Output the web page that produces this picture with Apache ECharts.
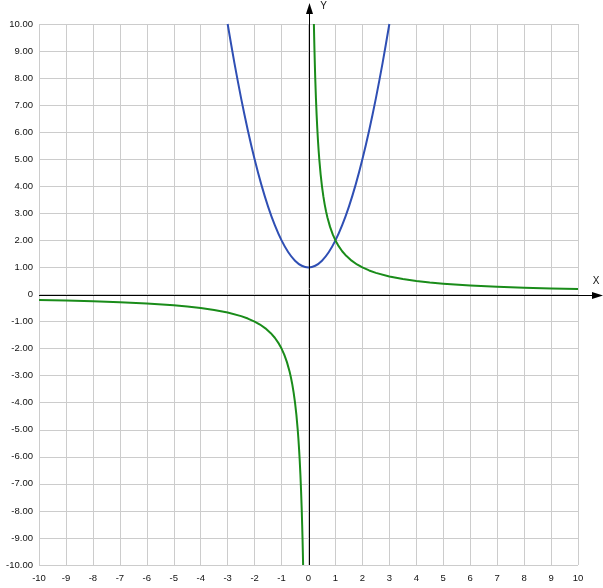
<!DOCTYPE html>
<html><head><meta charset="utf-8">
<script src="https://cdn.jsdelivr.net/npm/echarts@6/dist/echarts.min.js"></script>
<style>html,body{margin:0;padding:0;background:#fff}#c{width:603px;height:588px}</style>
</head><body><div id="c"></div>
<script>
// Blue curve (parabola) points
var blueX = [-3,-2.75,-2.5,-2.25,-2,-1.75,-1.5,-1.25,-1,-0.75,-0.5,-0.25,0,0.25,0.5,0.75,1,1.25,1.5,1.75,2,2.25,2.5,2.75,3];
var blueY = [10,8.5625,7.25,6.0625,5,4.0625,3.25,2.5625,2,1.5625,1.25,1.0625,1,1.0625,1.25,1.5625,2,2.5625,3.25,4.0625,5,6.0625,7.25,8.5625,10];
// Green curve (hyperbola), right branch
var greenPosX = [0.2,0.21,0.22,0.235,0.25,0.275,0.3,0.325,0.35,0.375,0.4,0.45,0.5,0.55,0.6,0.65,0.7,0.8,0.9,1,1.1,1.25,1.4,1.6,1.8,2,2.25,2.5,3,3.5,4,4.5,5,6,7,8,9,10];
var greenPosY = [10,9.524,9.091,8.511,8,7.273,6.667,6.154,5.714,5.333,5,4.444,4,3.636,3.333,3.077,2.857,2.5,2.222,2,1.818,1.6,1.429,1.25,1.111,1,0.889,0.8,0.667,0.571,0.5,0.444,0.4,0.333,0.286,0.25,0.222,0.2];
// Green curve, left branch
var greenNegX = [-10,-9,-8,-7,-6,-5,-4.5,-4,-3.5,-3,-2.5,-2.25,-2,-1.8,-1.6,-1.4,-1.25,-1.1,-1,-0.9,-0.8,-0.7,-0.65,-0.6,-0.55,-0.5,-0.45,-0.4,-0.375,-0.35,-0.325,-0.3,-0.275,-0.25,-0.235,-0.22,-0.21,-0.2];
var greenNegY = [-0.2,-0.222,-0.25,-0.286,-0.333,-0.4,-0.444,-0.5,-0.571,-0.667,-0.8,-0.889,-1,-1.111,-1.25,-1.429,-1.6,-1.818,-2,-2.222,-2.5,-2.857,-3.077,-3.333,-3.636,-4,-4.444,-5,-5.333,-5.714,-6.154,-6.667,-7.273,-8,-8.511,-9.091,-9.524,-10];
var axisMin = -10, axisMax = 10, tickStep = 1;
var xName = 'X', yName = 'Y';

function zip(a, b){ return a.map(function(v,i){ return [v, b[i]]; }); }

var chart = echarts.init(document.getElementById('c'), null, {renderer:'canvas'});
var font = 'Liberation Sans, Arial, sans-serif';
chart.setOption({
  animation:false,
  grid:{left:39, right:25, top:24, bottom:23, containLabel:false},
  xAxis:{type:'value', min:axisMin, max:axisMax, interval:tickStep,
    axisLine:{show:false, onZero:false}, axisTick:{show:false},
    splitLine:{show:true, lineStyle:{color:'#cccccc', width:1}},
    axisLabel:{color:'#111', fontSize:9.5, fontFamily:font, margin:8}},
  yAxis:{type:'value', min:axisMin, max:axisMax, interval:tickStep,
    axisLine:{show:false, onZero:false}, axisTick:{show:false},
    splitLine:{show:true, lineStyle:{color:'#cccccc', width:1}},
    axisLabel:{color:'#111', fontSize:9.5, fontFamily:font, margin:6,
      formatter:function(v){ return v===0 ? '0' : v.toFixed(2); }}},
  series:[
    {type:'line', data:zip(blueX, blueY), smooth:0.25, showSymbol:false,
      lineStyle:{color:'#2f4fb4', width:2, join:'round'}},
    {type:'line', data:zip(greenPosX, greenPosY), smooth:false, showSymbol:false,
      lineStyle:{color:'#1a8c1a', width:2, join:'round'}},
    {type:'line', data:zip(greenNegX, greenNegY), smooth:false, showSymbol:false,
      lineStyle:{color:'#1a8c1a', width:2, join:'round'}}
  ]
});

var o = chart.convertToPixel({gridIndex:0}, [0,0]);
var pl = chart.convertToPixel({gridIndex:0}, [axisMin,0]);
var pb = chart.convertToPixel({gridIndex:0}, [0,axisMin]);
var W = chart.getWidth();
var x0 = Math.round(o[0]) + 0.5, y0 = Math.round(o[1]) + 0.5;
chart.setOption({graphic:[
  {type:'line', shape:{x1:x0, y1:pb[1], x2:x0, y2:12}, style:{stroke:'#000', lineWidth:1}, z:100},
  {type:'polygon', shape:{points:[[x0,3],[x0-3.5,14],[x0+3.5,14]]}, style:{fill:'#000'}, z:100},
  {type:'line', shape:{x1:pl[0], y1:y0, x2:W-8, y2:y0}, style:{stroke:'#000', lineWidth:1}, z:100},
  {type:'polygon', shape:{points:[[W,y0],[W-11,y0-3.5],[W-11,y0+3.5]]}, style:{fill:'#000'}, z:100},
  {type:'text', x:x0+14, y:6, style:{text:yName, fill:'#111', font:'10px '+font, textAlign:'center', textVerticalAlign:'middle'}, z:100},
  {type:'text', x:W-7, y:y0-14, style:{text:xName, fill:'#111', font:'10px '+font, textAlign:'center', textVerticalAlign:'middle'}, z:100}
]});
</script></body></html>
